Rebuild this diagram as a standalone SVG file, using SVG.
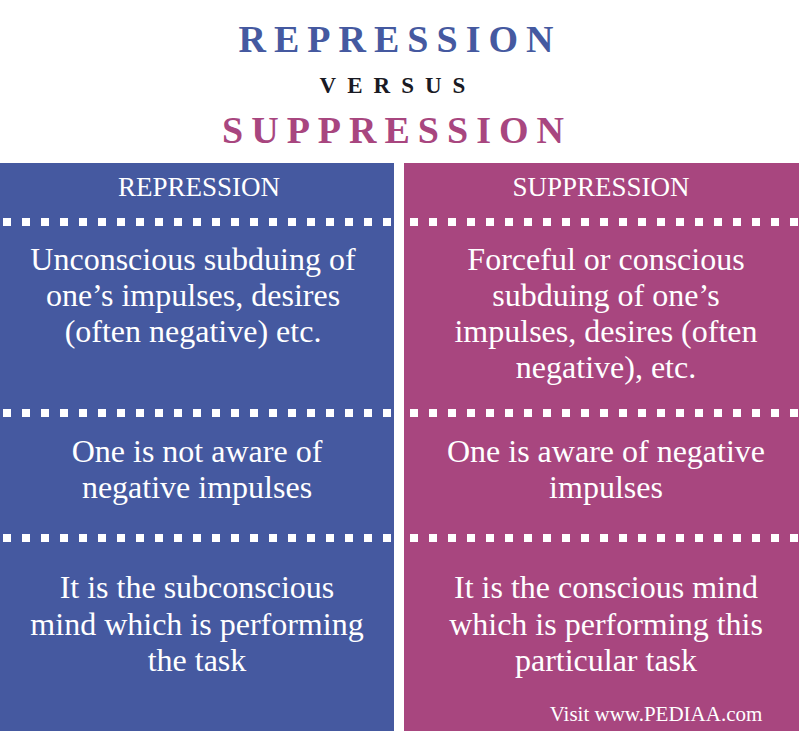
<svg xmlns="http://www.w3.org/2000/svg" width="799" height="731" viewBox="0 0 799 731">
<style>
.t{font-family:"Liberation Serif",serif;fill:#fff;text-anchor:middle}
.b{font-size:32px}.h{font-size:27px}
.dl{stroke:#fff;stroke-width:8;stroke-dasharray:8 11}
.ti{font-family:"Liberation Serif",serif;font-weight:bold;text-anchor:middle}
</style>
<rect width="799" height="731" fill="#fff"/>
<g id="title">
<text class="ti" x="400" y="52" font-size="38" letter-spacing="8" fill="#4559A0">REPRESSION</text>
<text class="ti" x="398" y="93" font-size="23" letter-spacing="11" fill="#1a1a24">VERSUS</text>
<text class="ti" x="397" y="143" font-size="38" letter-spacing="8" fill="#A8467F">SUPPRESSION</text>
</g>
<g id="left">
<rect x="0" y="163" width="394" height="568" fill="#4559A0"/>
<text class="t h" x="199" y="196">REPRESSION</text>
<text class="t b" x="193" y="270">Unconscious subduing of</text>
<text class="t b" x="193" y="306">one’s impulses, desires</text>
<text class="t b" x="193" y="342">(often negative) etc.</text>
<text class="t b" x="197" y="462">One is not aware of</text>
<text class="t b" x="197" y="498">negative impulses</text>
<text class="t b" x="197" y="598">It is the subconscious</text>
<text class="t b" x="197" y="635">mind which is performing</text>
<text class="t b" x="197" y="671">the task</text>
</g>
<g id="right">
<rect x="404" y="163" width="395" height="568" fill="#A8467F"/>
<text class="t h" x="601" y="196">SUPPRESSION</text>
<text class="t b" x="606" y="270">Forceful or conscious</text>
<text class="t b" x="606" y="306">subduing of one’s</text>
<text class="t b" x="606" y="342">impulses, desires (often</text>
<text class="t b" x="606" y="378">negative), etc.</text>
<text class="t b" x="606" y="462">One is aware of negative</text>
<text class="t b" x="606" y="498">impulses</text>
<text class="t b" x="606" y="598">It is the conscious mind</text>
<text class="t b" x="606" y="635">which is performing this</text>
<text class="t b" x="606" y="671">particular task</text>
<text class="t" x="656" y="721" font-size="21">Visit www.PEDIAA.com</text>
</g>
<g id="connectors">
<path class="dl" d="M3 222H394M3 413H394M3 538H394M410 222H799M410 413H799M410 538H799"/>
</g>
</svg>
